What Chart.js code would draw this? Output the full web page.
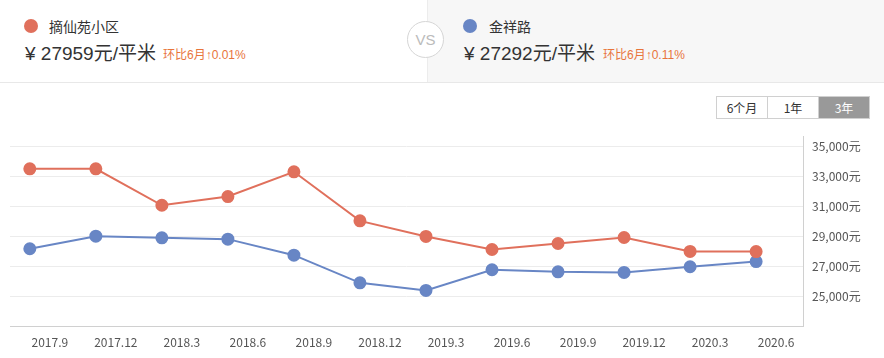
<!DOCTYPE html>
<html>
<head>
<meta charset="utf-8">
<script src="https://cdn.jsdelivr.net/npm/chart.js@4/dist/chart.umd.min.js"></script>
<style>
  body { margin: 0; width: 884px; height: 358px; background: #fff; overflow: hidden;
         font-family: "Microsoft YaHei", "Noto Sans CJK SC", sans-serif; color: #333; position: relative; }
  .head { position: absolute; left: 0; top: 0; width: 884px; height: 82px; border-bottom: 1px solid #e8e8e8; }
  .right-bg { position: absolute; left: 427px; top: 0; width: 457px; height: 82px; background: #f7f7f7; border-left: 1px solid #ececec; }
  .dot { position: absolute; width: 14px; height: 14px; border-radius: 50%; }
  .name { position: absolute; font-size: 14px; line-height: 16px; color: #333; }
  .price { position: absolute; font-size: 19px; line-height: 22px; color: #333;
           font-family: "Liberation Sans", "Noto Sans CJK SC", sans-serif; }
  .chg { position: absolute; font-size: 12px; line-height: 14px; color: #e8743b;
         font-family: "Liberation Sans", "Noto Sans CJK SC", sans-serif; }
  .vs { position: absolute; left: 407px; top: 21px; width: 35px; height: 35px; border: 1px solid #d6d6d6;
        border-radius: 50%; background: #fff; color: #bbb; font-size: 15px; text-align: center; line-height: 35px;
        font-family: Arial, "Liberation Sans", sans-serif; }
  .btns { position: absolute; left: 716px; top: 96px; height: 21px; display: flex; border: 1px solid #d0d0d0; }
  .btns div { width: 50px; text-align: center; font-size: 12px; line-height: 21px; color: #333; border-left: 1px solid #d0d0d0; }
  .btns div:first-child { border-left: none; }
  .btns .on { background: #999; color: #fff; }
  #wrap { position: absolute; left: 0; top: 84px; width: 884px; height: 274px; }
</style>
</head>
<body>
<div class="head">
  <div class="right-bg"></div>
  <div class="dot" style="left:24px;top:19px;background:#e0705c"></div>
  <div class="name" style="left:49px;top:18px">摘仙苑小区</div>
  <div class="price" style="left:25px;top:43px">¥ 27959元/平米</div>
  <div class="chg" style="left:163px;top:48px">环比6月↑0.01%</div>
  <div class="vs">VS</div>
  <div class="dot" style="left:463px;top:19px;background:#6886c5"></div>
  <div class="name" style="left:489px;top:18px">金祥路</div>
  <div class="price" style="left:464px;top:43px">¥ 27292元/平米</div>
  <div class="chg" style="left:603px;top:48px">环比6月↑0.11%</div>
</div>
<div class="btns"><div>6个月</div><div>1年</div><div class="on">3年</div></div>
<div id="wrap"><canvas id="priceChart"></canvas></div>
<script>
const months = ["2017.9", "2017.12", "2018.3", "2018.6", "2018.9", "2018.12", "2019.3", "2019.6", "2019.9", "2019.12", "2020.3", "2020.6"];
const zhaixianyuan = [33480, 33480, 31050, 31630, 33280, 30010, 28970, 28100, 28500, 28900, 27970, 27959];
const jinxianglu = [28150, 28990, 28880, 28790, 27720, 25880, 25370, 26750, 26610, 26570, 26950, 27292];
const yTicks = [25000, 27000, 29000, 31000, 33000, 35000];

const toPoints = (arr) => arr.map((v, i) => ({ x: i, y: v }));

const ctx = document.getElementById("priceChart");
new Chart(ctx, {
  type: "line",
  data: {
    datasets: [
      {
        label: "摘仙苑小区",
        data: toPoints(zhaixianyuan),
        borderColor: "#e0705c",
        backgroundColor: "#e0705c",
        borderWidth: 2,
        pointRadius: 5.5,
        pointHoverRadius: 5.5,
        tension: 0,
      },
      {
        label: "金祥路",
        data: toPoints(jinxianglu),
        borderColor: "#6886c5",
        backgroundColor: "#6886c5",
        borderWidth: 2,
        pointRadius: 5.5,
        pointHoverRadius: 5.5,
        tension: 0,
      },
    ],
  },
  options: {
    responsive: true,
    maintainAspectRatio: false,
    animation: false,
    layout: { padding: { left: 10, top: 52, right: 0, bottom: 0 } },
    plugins: { legend: { display: false }, tooltip: { enabled: false } },
    scales: {
      x: {
        type: "linear",
        min: -0.3,
        max: 11.71,
        afterBuildTicks: (axis) => { axis.ticks = months.map((m, i) => ({ value: i })); },
        afterFit: (axis) => { axis.height = 32; },
        grid: { display: false, drawTicks: false },
        border: { display: true, color: "#d0d0d0" },
        ticks: {
          autoSkip: false,
          maxRotation: 0,
          padding: 9,
          labelOffset: 20,
          color: "#555",
          font: { size: 12, family: '"Microsoft YaHei", "Noto Sans CJK SC", sans-serif' },
          callback: (v) => months[v],
        },
      },
      y: {
        position: "right",
        min: 23000,
        max: 35667,
        afterBuildTicks: (axis) => { axis.ticks = yTicks.map((v) => ({ value: v })); },
        afterFit: (axis) => { axis.width = 81; },
        grid: { color: "#ececec", drawTicks: false },
        border: { display: true, color: "#d0d0d0" },
        ticks: {
          padding: 9,
          color: "#555",
          font: { size: 12, family: '"Microsoft YaHei", "Noto Sans CJK SC", sans-serif' },
          callback: (v) => v.toLocaleString("en-US") + "元",
        },
      },
    },
  },
});
</script>
</body>
</html>
